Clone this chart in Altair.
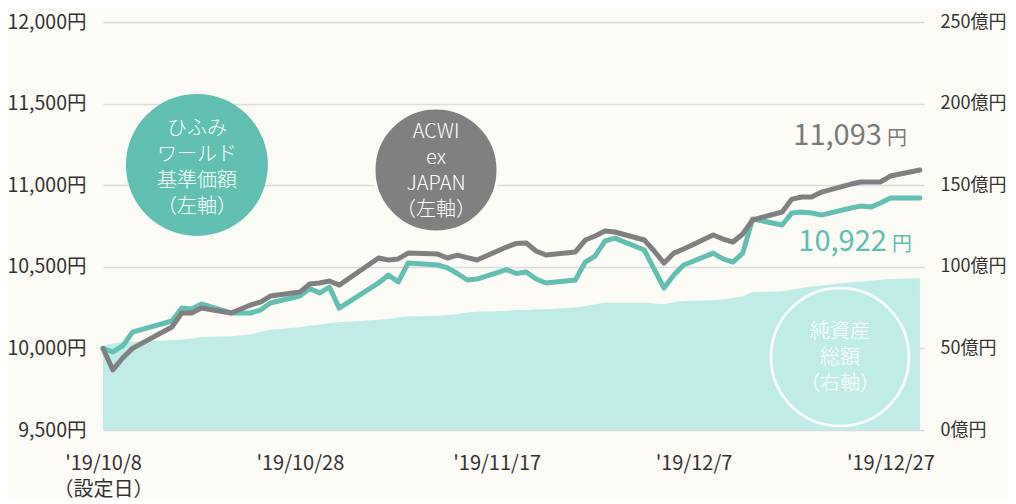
import altair as alt
import pandas as pd

# ---- data ----
dates = [
    "2019-10-08", "2019-10-09", "2019-10-10", "2019-10-11", "2019-10-15", "2019-10-16",
    "2019-10-17", "2019-10-18", "2019-10-21", "2019-10-23", "2019-10-24", "2019-10-25",
    "2019-10-28", "2019-10-29", "2019-10-30", "2019-10-31",
    "2019-11-01", "2019-11-05", "2019-11-06", "2019-11-07", "2019-11-08", "2019-11-11",
    "2019-11-12", "2019-11-13", "2019-11-14", "2019-11-15", "2019-11-18", "2019-11-19",
    "2019-11-20", "2019-11-21", "2019-11-22", "2019-11-25", "2019-11-26", "2019-11-27",
    "2019-11-28", "2019-11-29",
    "2019-12-02", "2019-12-03", "2019-12-04", "2019-12-05", "2019-12-06", "2019-12-09",
    "2019-12-10", "2019-12-11", "2019-12-12", "2019-12-13", "2019-12-16", "2019-12-17",
    "2019-12-18", "2019-12-19", "2019-12-20", "2019-12-23", "2019-12-24", "2019-12-25",
    "2019-12-26", "2019-12-27", "2019-12-30",
]
hifumi = [
    10000, 9978, 10015, 10100, 10168, 10247, 10241, 10272, 10217, 10217, 10235, 10278,
    10321, 10367, 10339, 10376,
    10247, 10401, 10450, 10407, 10523, 10511, 10493, 10459, 10419, 10425, 10483, 10459,
    10468, 10425, 10401, 10419, 10529, 10566, 10658, 10676,
    10603, 10486, 10370, 10450, 10511, 10584, 10548, 10529, 10584, 10793, 10756, 10830,
    10836, 10830, 10817, 10860, 10872, 10866, 10891, 10922, 10922,
]
acwi = [
    10000, 9868, 9941, 10000, 10131, 10217, 10217, 10247, 10217, 10266, 10284, 10321,
    10345, 10395, 10401, 10413,
    10388, 10554, 10542, 10548, 10584, 10578, 10554, 10572, 10556, 10542, 10621, 10643,
    10646, 10597, 10572, 10591, 10664, 10689, 10719, 10713,
    10664, 10597, 10523, 10584, 10609, 10695, 10670, 10652, 10701, 10787, 10836, 10915,
    10928, 10928, 10958, 11007, 11020, 11020, 11020, 11056, 11093,
]
assets = [
    52, 53, 54, 54, 55, 55.5, 56, 57, 57.5, 58.5, 60, 61.5,
    63, 64, 64.5, 65.5,
    66, 67.5, 68, 69, 69.5, 70, 70.5, 71, 72, 72.5, 73, 73.5,
    73.5, 74, 74, 75, 76, 77, 78, 78,
    78, 77.5, 77, 78.5, 79, 79.5, 80, 81, 82, 84.5, 85, 86,
    87, 88, 88.5, 90.5, 91, 91.5, 92, 92.5, 93,
]

left_ticks = [9500, 10000, 10500, 11000, 11500, 12000]
right_ticks = [0, 50, 100, 150, 200, 250]
x_tick_dates = [(2019, 10, 8), (2019, 10, 28), (2019, 11, 17), (2019, 12, 7), (2019, 12, 27)]

# annotation anchors (data space)
circle_dates = ["2019-10-17T13:00:00Z", "2019-11-10T20:00:00Z", "2019-12-21T21:00:00Z"]
circle_values = [11124, 11093, 9947]
circle_texts = [
    ["ひふみ", "ワールド", "基準価額", "（左軸）"],
    ["ACWI", "ex", "JAPAN", "（左軸）"],
    ["純資産", "総額", "（右軸）"],
]
end_labels = ["11,093", "10,922"]
end_label_values = [11246, 10597]
end_label_date = "2019-12-30"

TEAL = "#62c0b3"
GRAY = "#808080"
AREA = "#bfece6"
BG = "#fdfbf6"
FONT = "Noto Sans CJK JP"

df = pd.DataFrame({"date": dates, "hifumi": hifumi, "acwi": acwi, "assets": assets})

x_scale = alt.Scale(
    type="utc",
    domain=[alt.DateTime(year=2019, month=10, date=8, utc=True),
            alt.DateTime(year=2019, month=12, date=30, hours=10, utc=True)],
)
x_axis = alt.Axis(
    values=[alt.DateTime(year=y, month=m, date=d, utc=True) for y, m, d in x_tick_dates],
    labelExpr="datum.index == 0 ? [\"'\" + utcFormat(datum.value, '%y/%-m/%-d'), '（設定日）'] : \"'\" + utcFormat(datum.value, '%y/%-m/%-d')",
    title=None, grid=False, ticks=False, domain=False,
    labelFont=FONT, labelFontSize=20, labelColor="#333333", labelPadding=23,
    labelLineHeight=26, labelFlush=False, labelOverlap=False, labelBaseline="top",
)
X = alt.X("date:T", scale=x_scale, axis=x_axis)

left_scale = alt.Scale(domain=[9500, 12000], nice=False, zero=False)
left_axis = alt.Axis(
    values=left_ticks, labelExpr="format(datum.value, ',') + '円'", title=None,
    grid=True, gridColor="#dcdcdc", gridWidth=1.6, ticks=False, domain=False,
    labelFont=FONT, labelFontSize=19.5, labelColor="#333333", labelPadding=17,
)
right_axis = alt.Axis(
    values=right_ticks, labelExpr="datum.value + '億円'", title=None, orient="right",
    grid=False, ticks=False, domain=False,
    labelFont=FONT, labelFontSize=18, labelColor="#333333", labelPadding=16,
)

area = alt.Chart(df).mark_area(color=AREA, opacity=1, interpolate="linear").encode(
    x=X,
    y=alt.Y("assets:Q", scale=alt.Scale(domain=[0, 250], nice=False), axis=right_axis),
)

Yl = lambda f: alt.Y(f, scale=left_scale, axis=left_axis)

teal_line = alt.Chart(df).mark_line(color=TEAL, strokeWidth=5, strokeCap="round", strokeJoin="round").encode(
    x=X, y=Yl("hifumi:Q"))
gray_line = alt.Chart(df).mark_line(color=GRAY, strokeWidth=5, strokeCap="round", strokeJoin="round").encode(
    x=X, y=Yl("acwi:Q"))

def ann_df(i):
    return pd.DataFrame({"date": [circle_dates[i]], "v": [circle_values[i]]})

c1 = alt.Chart(ann_df(0)).mark_point(shape="circle", filled=True, fill=TEAL, opacity=1,
                                     size=142 ** 2, strokeWidth=0).encode(x=X, y=Yl("v:Q"))
c2 = alt.Chart(ann_df(1)).mark_point(shape="circle", filled=True, fill=GRAY, opacity=1,
                                     size=124 ** 2, stroke=BG, strokeWidth=3).encode(x=X, y=Yl("v:Q"))
c3 = alt.Chart(ann_df(2)).mark_point(shape="circle", filled=False, stroke="#ffffff", opacity=1,
                                     size=138 ** 2, strokeWidth=2.5).encode(x=X, y=Yl("v:Q"))

def circle_text(i, dy):
    return alt.Chart(ann_df(i)).mark_text(
        font=FONT, fontSize=20, color="#ffffff", lineHeight=26, align="center",
        baseline="middle", dy=dy, fontWeight=300,
    ).encode(x=X, y=Yl("v:Q"), text=alt.value(circle_texts[i]))

t1 = circle_text(0, -36)
t2 = circle_text(1, -38)
t3 = circle_text(2, -25)

def end_label(i, color, dx_num, dx_yen):
    d = pd.DataFrame({"date": [end_label_date], "v": [end_label_values[i]]})
    num = alt.Chart(d).mark_text(font=FONT, fontSize=29, color=color, align="right",
                                 baseline="alphabetic", dx=dx_num).encode(
        x=X, y=Yl("v:Q"), text=alt.value(end_labels[i]))
    yen = alt.Chart(d).mark_text(font=FONT, fontSize=20, color=color, align="left",
                                 baseline="alphabetic", dx=dx_yen).encode(
        x=X, y=Yl("v:Q"), text=alt.value("円"))
    return num + yen

e1 = end_label(0, "#7a7a7a", -38, -33)
e2 = end_label(1, "#5dbfb1", -33, -28)

left_layer = alt.layer(teal_line, gray_line, c1, c2, c3, t1, t2, t3, e1, e2)

chart = alt.layer(area, left_layer).resolve_scale(y="independent").properties(
    width=821, height=408,
    autosize=alt.AutoSizeParams(type="none"),
    padding={"left": 95, "top": 14, "right": 84, "bottom": 70},
    background=BG,
).configure_view(stroke=None)

chart.save("out.html", embed_options={"renderer": "svg", "actions": False})
